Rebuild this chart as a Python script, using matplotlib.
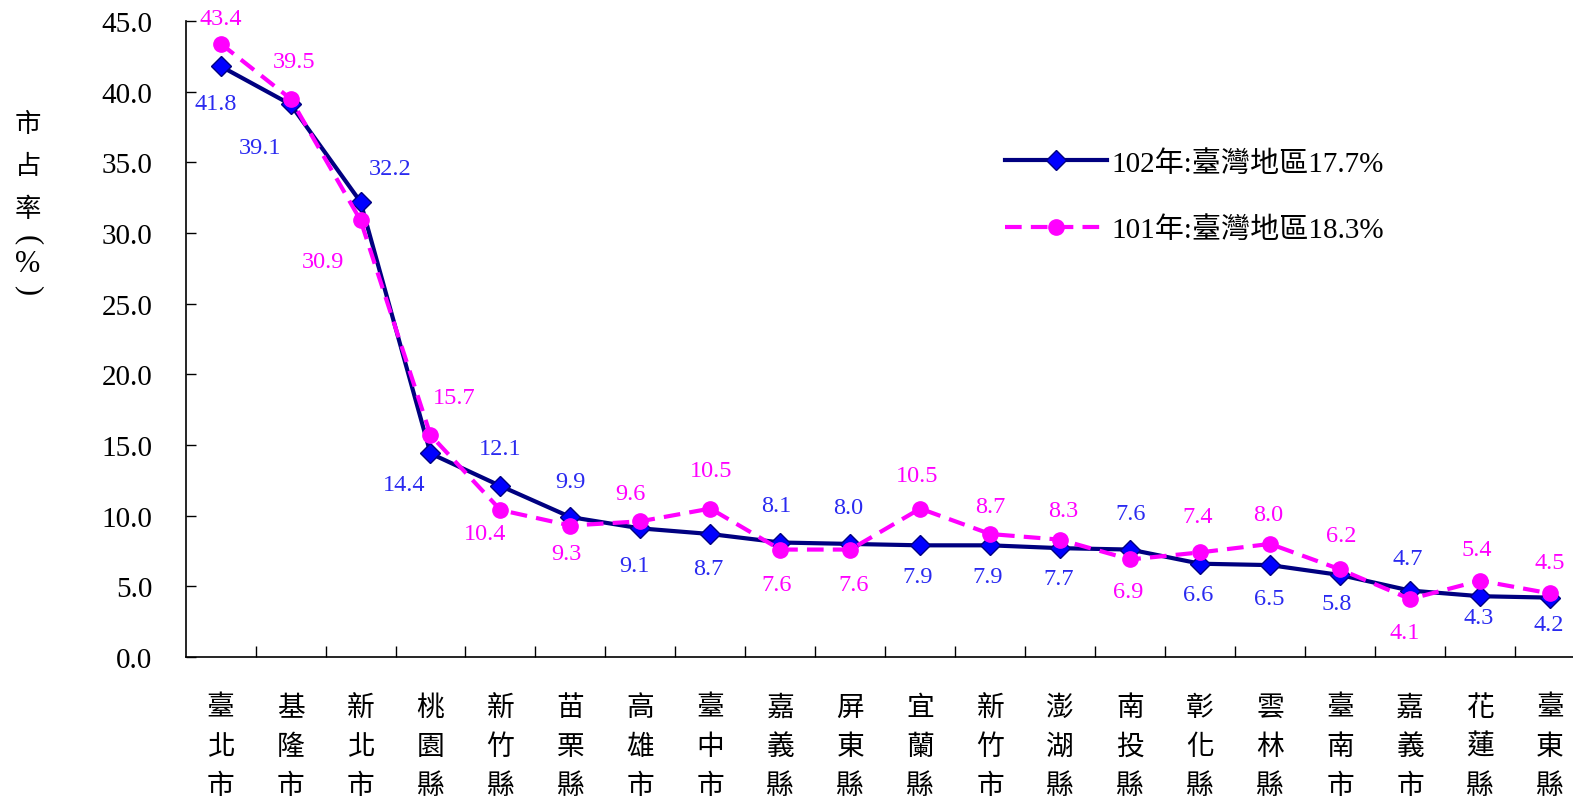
import matplotlib
matplotlib.use("Agg")
import matplotlib.pyplot as plt

# 縣市別市占率
counties = ["臺北市", "基隆市", "新北市", "桃園縣", "新竹縣", "苗栗縣", "高雄市",
            "臺中市", "嘉義縣", "屏東縣", "宜蘭縣", "新竹市", "澎湖縣", "南投縣",
            "彰化縣", "雲林縣", "臺南市", "嘉義市", "花蓮縣", "臺東縣"]
share_102 = [41.8, 39.1, 32.2, 14.4, 12.1, 9.9, 9.1, 8.7, 8.1, 8.0,
             7.9, 7.9, 7.7, 7.6, 6.6, 6.5, 5.8, 4.7, 4.3, 4.2]
share_101 = [43.4, 39.5, 30.9, 15.7, 10.4, 9.3, 9.6, 10.5, 7.6, 7.6,
             10.5, 8.7, 8.3, 6.9, 7.4, 8.0, 6.2, 4.1, 5.4, 4.5]
label_102 = "102年:臺灣地區17.7%"
label_101 = "101年:臺灣地區18.3%"
ylabel_chars = ["市", "占", "率", "(", "%", ")"]

# label offsets in pixels (dx, dy), dy positive = up
off_102 = [(-5, -37), (-31, -43), (30, 33), (-26, -31), (0, 37), (0, 36),
           (-6, -37), (-2, -34), (-4, 37), (-2, 36), (-3, -31), (-3, -31),
           (-2, -30), (0, 36), (-2, -31), (-1, -33), (-3, -28), (-2, 32),
           (-1, -21), (-1, -27)]
off_101 = [(0, 25), (4, 37), (-38, -41), (24, 38), (-15, -24), (-4, -28),
           (-10, 28), (1, 38), (-4, -35), (3, -35), (-3, 33), (0, 28),
           (3, 29), (-2, -32), (-3, 36), (-2, 29), (1, 34), (-5, -33),
           (-3, 31), (0, 31)]

NUM_FONT = "Liberation Serif"
CJK = ["Noto Sans CJK TC", "DejaVu Sans"]
MIX = ["Liberation Serif", "Noto Sans CJK TC"]

W, H = 1573, 803
fig = plt.figure(figsize=(W / 100, H / 100), dpi=100)
ax = fig.add_axes([0.1180, 0.1806, 0.8896, 0.7920])

x = list(range(len(counties)))
ax.plot(x, share_102, color="#000080", lw=3, marker="D", markersize=10,
        markerfacecolor="#0000FF", markeredgecolor="#000080",
        markeredgewidth=1, label=label_102, zorder=3, clip_on=False)
ax.plot(x, share_101, color="#FF00FF", lw=3, dashes=(4, 2.2), marker="o",
        markersize=11, markerfacecolor="#FF00FF", markeredgecolor="#FF00FF",
        label=label_101, zorder=4, clip_on=False)

for i, v in enumerate(share_102):
    ax.annotate(f"{v:.1f}", (i, v), xytext=off_102[i], textcoords="offset pixels",
                ha="center", va="center", color="#2A2AF0", fontsize=17.5,
                family=NUM_FONT, annotation_clip=False)
for i, v in enumerate(share_101):
    ax.annotate(f"{v:.1f}", (i, v), xytext=off_101[i], textcoords="offset pixels",
                ha="center", va="center", color="#FF00FF", fontsize=17.5,
                family=NUM_FONT, annotation_clip=False)

ax.set_xlim(-0.5, len(counties) - 0.5)
ax.set_ylim(0, 45)
ax.set_yticks([i * 5 for i in range(10)])
ax.set_yticklabels([f"{i * 5:.1f}" for i in range(10)], family=NUM_FONT, fontsize=21)
ax.tick_params(axis="y", direction="in", length=7, width=1, pad=24)

# ticks between categories, labels at the centres
ax.set_xticks([i + 0.5 for i in range(len(counties) - 1)])
ax.set_xticklabels([])
ax.tick_params(axis="x", which="major", direction="in", length=8, width=1)
ax.set_xticks(x, minor=True)
ax.set_xticklabels(["\n".join(c) for c in counties], minor=True, family=CJK,
                   fontsize=20, linespacing=1.4)
ax.tick_params(axis="x", which="minor", length=0, pad=25)

for s in ("top", "right"):
    ax.spines[s].set_visible(False)
for s in ("left", "bottom"):
    ax.spines[s].set_linewidth(1.2)

# vertical y-axis title, one character per row; brackets turned sideways
for ch, yp in zip(ylabel_chars, [125, 167, 210, 240, 265, 290]):
    if ch in "()":
        fig.text(28 / W, 1 - yp / H, ch, family=NUM_FONT, fontsize=22,
                 ha="center", va="center", rotation=-90)
    elif ch == "%":
        fig.text(28 / W, 1 - yp / H, ch, family=NUM_FONT, fontsize=22,
                 ha="center", va="center")
    else:
        fig.text(28 / W, 1 - yp / H, ch, family=CJK, fontsize=19,
                 ha="center", va="center")

leg = ax.legend(loc="upper left", bbox_to_anchor=(0.622, 0.845),
                bbox_transform=fig.transFigure, frameon=False,
                prop={"family": MIX, "size": 21}, handlelength=3.5,
                handletextpad=0.15, labelspacing=1.35)

fig.savefig("out.png", dpi=100)
